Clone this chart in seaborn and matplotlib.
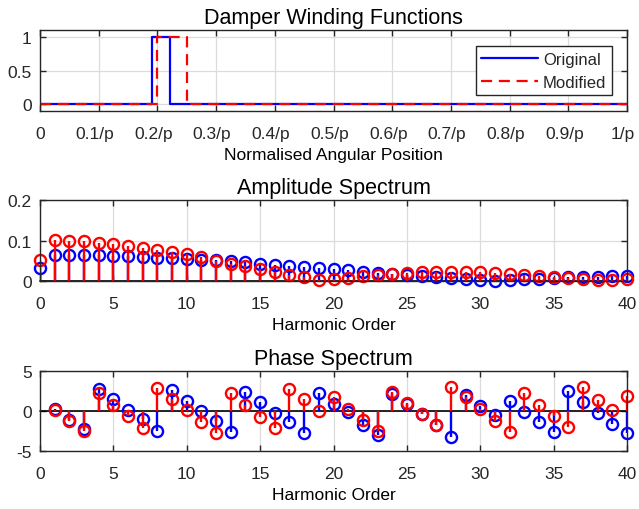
import matplotlib
matplotlib.use("Agg")
import matplotlib.pyplot as plt
from matplotlib.transforms import ScaledTranslation
import seaborn as sns
import pandas as pd

# ---------------- data ----------------
pos_original = [0.0, 0.19, 0.19, 0.222, 0.222, 1.0]
wf_original = [0, 0, 1, 1, 0, 0]
pos_modified = [0.0, 0.20, 0.20, 0.25, 0.25, 1.0]
wf_modified = [0, 0, 1, 1, 0, 0]

pos_ticks = [0, 0.1, 0.2, 0.3, 0.4, 0.5, 0.6, 0.7, 0.8, 0.9, 1.0]
pos_ticklabels = ["0", "0.1/p", "0.2/p", "0.3/p", "0.4/p", "0.5/p",
                  "0.6/p", "0.7/p", "0.8/p", "0.9/p", "1/p"]

amp_orders = list(range(0, 41))
amp_original = [0.033, 0.065, 0.064, 0.064, 0.063, 0.062, 0.061, 0.059, 0.058, 0.056,
                0.055, 0.053, 0.051, 0.049, 0.046, 0.043, 0.040, 0.037, 0.035, 0.032,
                0.029, 0.026, 0.023, 0.020, 0.017, 0.015, 0.012, 0.009, 0.007, 0.004,
                0.002, 0.001, 0.002, 0.004, 0.006, 0.007, 0.009, 0.010, 0.011, 0.012,
                0.013]
amp_modified = [0.053, 0.101, 0.100, 0.098, 0.095, 0.091, 0.087, 0.082, 0.076, 0.071,
                0.066, 0.059, 0.050, 0.043, 0.036, 0.029, 0.021, 0.015, 0.009, 0.003,
                0.004, 0.008, 0.012, 0.015, 0.018, 0.020, 0.021, 0.022, 0.022, 0.022,
                0.021, 0.019, 0.017, 0.015, 0.013, 0.010, 0.007, 0.005, 0.003, 0.002,
                0.004]

phase_orders = list(range(1, 41))
phase_original = [0.3, -1.1, -2.3, 2.8, 1.5, 0.1, -1.0, -2.5, 2.6, 1.3,
                  0.0, -1.3, -2.6, 2.4, 1.1, -0.2, -1.4, -2.7, 2.3, 0.9,
                  -0.1, -1.7, -3.0, 2.1, 0.9, -0.4, -1.8, -3.2, 2.0, 0.6,
                  -0.5, 1.3, -0.1, -1.4, -2.6, 2.5, 1.1, -0.2, -1.6, -2.8]
phase_modified = [0.1, -1.2, -2.5, 2.3, 0.7, -0.6, -2.1, 2.9, 1.5, 0.1,
                  -1.4, -2.7, 2.2, 0.8, -0.8, -2.1, 2.8, 1.5, 0.0, 1.8,
                  0.3, -1.1, -2.5, 2.4, 1.0, -0.4, -1.8, 3.0, 1.7, 0.2,
                  -1.3, -2.6, 2.3, 0.8, -0.6, -2.0, 3.0, 1.4, 0.1, 1.9]

# ---------------- style ----------------
sns.set_theme(style="ticks")
plt.rcParams["font.family"] = ["Liberation Sans", "DejaVu Sans"]
AX_COL = "#262626"
BLUE = "#0000ff"
RED = "#ff0000"
TICK_FS = 12.5
LABEL_FS = 12.5
TITLE_FS = 15.5

fig = plt.figure(figsize=(6.39, 5.10), dpi=100)
W = 639.0
H = 510.0
ax1 = fig.add_axes([40 / W, 1 - 112 / H, 587 / W, 81 / H])
ax2 = fig.add_axes([40 / W, 1 - 282 / H, 587 / W, 81 / H])
ax3 = fig.add_axes([40 / W, 1 - 452 / H, 587 / W, 80 / H])


def matlab_axes(ax):
    for s in ax.spines.values():
        s.set_color(AX_COL)
        s.set_linewidth(1.0)
        s.set_visible(True)
    ax.grid(True, color="#dcdcdc", linewidth=0.9)
    ax.set_axisbelow(True)
    ax.tick_params(direction="in", length=4, width=1.0, color=AX_COL,
                   top=True, right=True, labelsize=TICK_FS, labelcolor="#262626")
    ax.tick_params(axis="x", pad=11)
    ax.tick_params(axis="y", pad=6)


# ---------------- panel 1 ----------------
df_o = pd.DataFrame({"pos": pos_original, "wf": wf_original})
df_m = pd.DataFrame({"pos": pos_modified, "wf": wf_modified})
sns.lineplot(data=df_o, x="pos", y="wf", sort=False, estimator=None, ax=ax1,
             color=BLUE, linewidth=1.6, label="Original")
sns.lineplot(data=df_m, x="pos", y="wf", sort=False, estimator=None, ax=ax1,
             color=RED, linewidth=1.6, label="Modified")
ax1.lines[1].set_linestyle((0, (5, 3)))
ax1.set_xlim(0, 1)
ax1.set_ylim(-0.1, 1.1)
ax1.set_xticks(pos_ticks)
ax1.set_xticklabels(pos_ticklabels)
ax1.set_yticks([0, 0.5, 1])
ax1.set_yticklabels(["0", "0.5", "1"])
ax1.set_xlabel("Normalised Angular Position", fontsize=LABEL_FS, color="black", labelpad=4)
ax1.set_ylabel("")
ax1.set_title("Damper Winding Functions", fontsize=TITLE_FS, color="black", pad=5)
matlab_axes(ax1)
shift = ScaledTranslation(-4 / 100, 0, fig.dpi_scale_trans)
for lab in ax1.get_xticklabels()[1:]:
    lab.set_transform(lab.get_transform() + shift)
leg = ax1.legend(loc="upper right", bbox_to_anchor=(0.975, 0.80), fontsize=12,
                 frameon=True, fancybox=False, framealpha=1, edgecolor=AX_COL,
                 handlelength=3.4, handletextpad=0.3, borderpad=0.35, labelspacing=0.45,
                 borderaxespad=0)
leg.get_frame().set_linewidth(1.0)


def stem(ax, x, y, color):
    ml, sl, bl = ax.stem(x, y, linefmt="-", markerfmt="o", basefmt=" ")
    plt.setp(sl, color=color, linewidth=1.7)
    plt.setp(ml, markerfacecolor="none", markeredgecolor=color, markersize=8,
             markeredgewidth=1.7)


# ---------------- panel 2 ----------------
stem(ax2, amp_orders, amp_original, BLUE)
stem(ax2, amp_orders, amp_modified, RED)
ax2.axhline(0, color="black", linewidth=1.2, zorder=1.5)
ax2.set_xlim(0, 40)
ax2.set_ylim(0, 0.2)
ax2.set_xticks([0, 5, 10, 15, 20, 25, 30, 35, 40])
ax2.set_yticks([0, 0.1, 0.2])
ax2.set_yticklabels(["0", "0.1", "0.2"])
ax2.set_xlabel("Harmonic Order", fontsize=LABEL_FS, color="black", labelpad=4)
ax2.set_title("Amplitude Spectrum", fontsize=TITLE_FS, color="black", pad=5)
matlab_axes(ax2)
for ml in ax2.lines:
    ml.set_clip_on(False)

# ---------------- panel 3 ----------------
stem(ax3, phase_orders, phase_original, BLUE)
stem(ax3, phase_orders, phase_modified, RED)
ax3.axhline(0, color="black", linewidth=1.2, zorder=1.5)
ax3.set_xlim(0, 40)
ax3.set_ylim(-5, 5)
ax3.set_xticks([0, 5, 10, 15, 20, 25, 30, 35, 40])
ax3.set_yticks([-5, 0, 5])
ax3.set_yticklabels(["-5", "0", "5"])
ax3.set_xlabel("Harmonic Order", fontsize=LABEL_FS, color="black", labelpad=4)
ax3.set_title("Phase Spectrum", fontsize=TITLE_FS, color="black", pad=5)
matlab_axes(ax3)
for ml in ax3.lines:
    ml.set_clip_on(False)

fig.savefig("out.png", dpi=100)
